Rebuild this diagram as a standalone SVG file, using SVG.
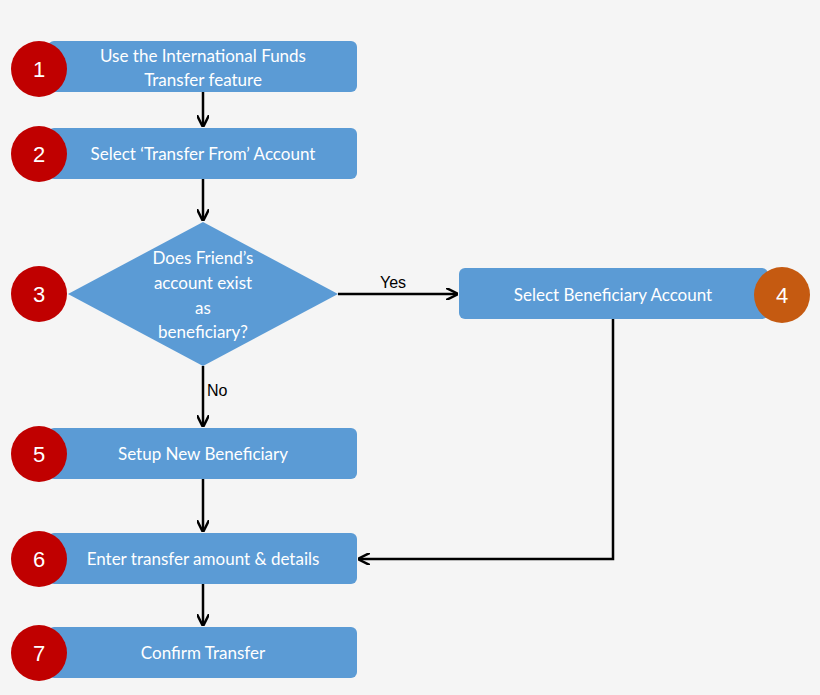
<svg xmlns="http://www.w3.org/2000/svg" width="820" height="695" viewBox="0 0 820 695">
<style>
.box{fill:#5B9BD5}
.t{font-family:Lato,"Open Sans",sans-serif;font-size:17px;fill:#fff;text-anchor:middle}
.n{font-family:"Liberation Sans",Arial,sans-serif;font-size:22px;fill:#fff;text-anchor:middle}
.l{font-family:"Liberation Sans",Arial,sans-serif;font-size:16px;fill:#000}
.c{fill:none;stroke:#000;stroke-width:2.5;marker-end:url(#a)}
</style>
<defs><marker id="a" viewBox="0 0 10 10" refX="9" refY="5" markerWidth="5" markerHeight="5" orient="auto" markerUnits="strokeWidth"><path d="M0,0 L10,5 L0,10" fill="none" stroke="#000" stroke-width="2"/></marker></defs>
<rect width="820" height="695" fill="#f5f5f5"/>
<g id="connectors">
<path class="c" d="M203,92 V126"/>
<path class="c" d="M203,179 V220"/>
<path class="c" d="M338,294 H457"/>
<path class="c" d="M203,366 V426"/>
<path class="c" d="M203,479 V531"/>
<path class="c" d="M613,319 V559 H359"/>
<path class="c" d="M203,584 V625"/>
<text class="l" x="380" y="288">Yes</text>
<text class="l" x="207" y="396">No</text>
</g>
<g id="n1"><rect class="box" x="48" y="41" width="309" height="51" rx="6"/><text class="t" x="203" y="62">Use the International Funds</text><text class="t" x="203" y="86">Transfer feature</text><circle cx="39" cy="69" r="28" fill="#C00000"/><text class="n" x="39" y="77">1</text></g>
<g id="n2"><rect class="box" x="48" y="128" width="309" height="51" rx="6"/><text class="t" x="203" y="160">Select ‘Transfer From’ Account</text><circle cx="39" cy="154" r="28" fill="#C00000"/><text class="n" x="39" y="162">2</text></g>
<g id="n3"><polygon class="box" points="203,222 338,294 203,366 68,294"/><text class="t" x="203" y="264">Does Friend’s</text><text class="t" x="203" y="289">account exist</text><text class="t" x="203" y="314">as</text><text class="t" x="203" y="338">beneficiary?</text><circle cx="39" cy="294" r="28" fill="#C00000"/><text class="n" x="39" y="302">3</text></g>
<g id="n4"><rect class="box" x="459" y="268" width="309" height="51" rx="6"/><text class="t" x="613" y="301">Select Beneficiary Account</text><circle cx="782" cy="295" r="28" fill="#C55A11"/><text class="n" x="782" y="303">4</text></g>
<g id="n5"><rect class="box" x="48" y="428" width="309" height="51" rx="6"/><text class="t" x="203" y="460">Setup New Beneficiary</text><circle cx="39" cy="454" r="28" fill="#C00000"/><text class="n" x="39" y="462">5</text></g>
<g id="n6"><rect class="box" x="48" y="533" width="309" height="51" rx="6"/><text class="t" x="203" y="565">Enter transfer amount &amp; details</text><circle cx="39" cy="559" r="28" fill="#C00000"/><text class="n" x="39" y="567">6</text></g>
<g id="n7"><rect class="box" x="48" y="627" width="309" height="51" rx="6"/><text class="t" x="203" y="659">Confirm Transfer</text><circle cx="39" cy="653" r="28" fill="#C00000"/><text class="n" x="39" y="661">7</text></g>
</svg>
